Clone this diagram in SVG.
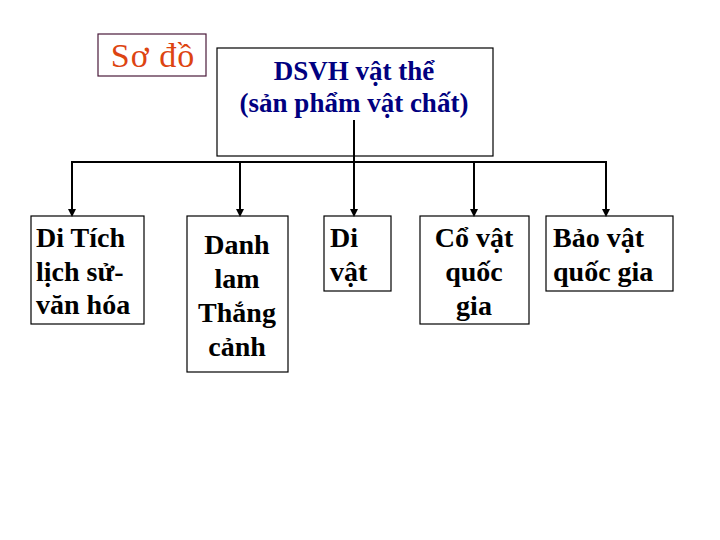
<svg xmlns="http://www.w3.org/2000/svg" width="720" height="540" viewBox="0 0 720 540">
<defs>
<marker id="arr" markerWidth="8" markerHeight="8" refX="6" refY="4" orient="auto" markerUnits="userSpaceOnUse">
<path d="M0,0 L8,4 L0,8 Z" fill="#000"/>
</marker>
<style>
.box{fill:#fff;stroke:#000;stroke-width:1.2}
.t{font-family:"Liberation Serif","Times New Roman",serif;font-weight:bold;font-size:28px;fill:#000}
.c{text-anchor:middle}
.ln{stroke:#000;stroke-width:2;fill:none}
</style>
</defs>
<rect width="720" height="540" fill="#fff"/>
<g id="title">
<rect x="98" y="34" width="108" height="42" fill="#fff" stroke="#4a1a3a" stroke-width="1.2"/>
<text x="153" y="67" text-anchor="middle" font-family="Liberation Serif,serif" font-size="34" letter-spacing="1" fill="#dd4411">Sơ đồ</text>
</g>
<g id="root">
<rect class="box" x="217" y="48" width="276" height="108"/>
<text class="t c" x="354" y="80" style="fill:#000080;font-size:27px">DSVH vật thể</text>
<text class="t c" x="354" y="112" style="fill:#000080;font-size:27px">(sản phẩm vật chất)</text>
</g>
<g id="n1">
<rect class="box" x="31" y="216" width="113" height="108"/>
<text class="t" x="36" y="247">Di Tích</text>
<text class="t" x="36" y="281">lịch sử-</text>
<text class="t" x="36" y="314">văn hóa</text>
</g>
<g id="n2">
<rect class="box" x="187" y="216" width="101" height="156"/>
<text class="t c" x="237" y="254">Danh</text>
<text class="t c" x="237" y="288">lam</text>
<text class="t c" x="237" y="322">Thắng</text>
<text class="t c" x="237" y="356">cảnh</text>
</g>
<g id="n3">
<rect class="box" x="324" y="216" width="67" height="75"/>
<text class="t" x="330" y="247">Di</text>
<text class="t" x="330" y="281">vật</text>
</g>
<g id="n4">
<rect class="box" x="420" y="216" width="109" height="108"/>
<text class="t c" x="474" y="247">Cổ vật</text>
<text class="t c" x="474" y="281">quốc</text>
<text class="t c" x="474" y="315">gia</text>
</g>
<g id="n5">
<rect class="box" x="546" y="216" width="127" height="75"/>
<text class="t" x="553" y="247">Bảo vật</text>
<text class="t" x="553" y="281">quốc gia</text>
</g>
<g id="connectors">
<line class="ln" x1="354" y1="120" x2="354" y2="215" marker-end="url(#arr)"/>
<line class="ln" x1="72" y1="162" x2="606" y2="162"/>
<line class="ln" x1="72" y1="161" x2="72" y2="215" marker-end="url(#arr)"/>
<line class="ln" x1="240" y1="162" x2="240" y2="215" marker-end="url(#arr)"/>
<line class="ln" x1="474" y1="162" x2="474" y2="215" marker-end="url(#arr)"/>
<line class="ln" x1="606" y1="161" x2="606" y2="215" marker-end="url(#arr)"/>
</g>
</svg>
